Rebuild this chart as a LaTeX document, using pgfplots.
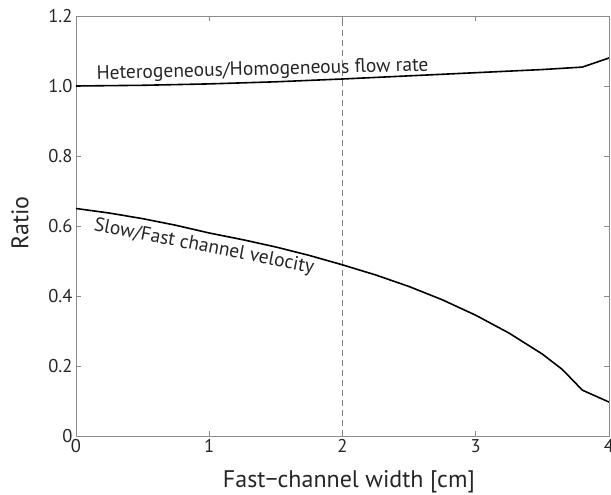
\documentclass[border=0pt]{standalone}
\usepackage{pgfplots}
\pgfplotsset{compat=1.18}
\usepackage{fontspec}
\setmainfont{PT Sans}
\begin{document}
\begin{tikzpicture}
\begin{axis}[
  scale only axis,
  width=533pt, height=420pt,
  xmin=0, xmax=4, ymin=0, ymax=1.2,
  xtick={0,1,2,3,4}, ytick={0,0.2,0.4,0.6,0.8,1.0,1.2},
  yticklabels={0,0.2,0.4,0.6,0.8,1.0,1.2},
  xticklabels={0,1,2,3,4},
  tick align=inside,
  major tick length=5pt,
  axis line style={draw=gray!90, line width=0.8pt},
  tick style={draw=gray!90, line width=0.8pt},
  ticklabel style={font=\fontsize{18.5}{22}\selectfont, black!85},
  every axis x label/.style={at={(axis description cs:0.512,-0.1095)}, anchor=center},
  every axis y label/.style={at={(axis description cs:-0.105,0.507)}, anchor=center, rotate=90},
  label style={font=\fontsize{24}{27}\selectfont, black!85},
  xlabel={Fast\textminus channel width [cm]},
  ylabel={Ratio},
  /pgf/number format/assume math mode=true,
]
\coordinate (o) at (rel axis cs:0,0);
\addplot[gray, dashed, line width=0.8pt, dash pattern=on 6pt off 4pt] coordinates {(2,0) (2,1.2)};
\addplot[black, line width=1.6pt] coordinates {
(0,1.000) (0.5,1.002) (1,1.006) (1.5,1.012) (2,1.020) (2.5,1.029) (3,1.038) (3.5,1.047) (3.8,1.054) (4,1.080)};
\addplot[black, line width=1.6pt] coordinates {
(0,0.650) (0.25,0.637) (0.5,0.621) (0.75,0.602) (1,0.580) (1.25,0.561) (1.5,0.540) (1.75,0.516) (2,0.489) (2.25,0.460) (2.5,0.427) (2.75,0.389) (3,0.345) (3.25,0.294) (3.5,0.234) (3.65,0.190) (3.8,0.131) (4,0.097)};
\node[font=\fontsize{19.5}{22}\selectfont, black!85, rotate=1.5] at (axis cs:1.40,1.045) {Heterogeneous/Homogeneous flow rate};
\node[font=\fontsize{19.5}{22}\selectfont, black!85, rotate=-11] at (axis cs:0.96,0.54) {Slow/Fast channel velocity};
\end{axis}
\pgfresetboundingbox
\useasboundingbox ([shift={(-76pt,-59pt)}]o) rectangle ([shift={(535pt,436pt)}]o);
\end{tikzpicture}
\end{document}
